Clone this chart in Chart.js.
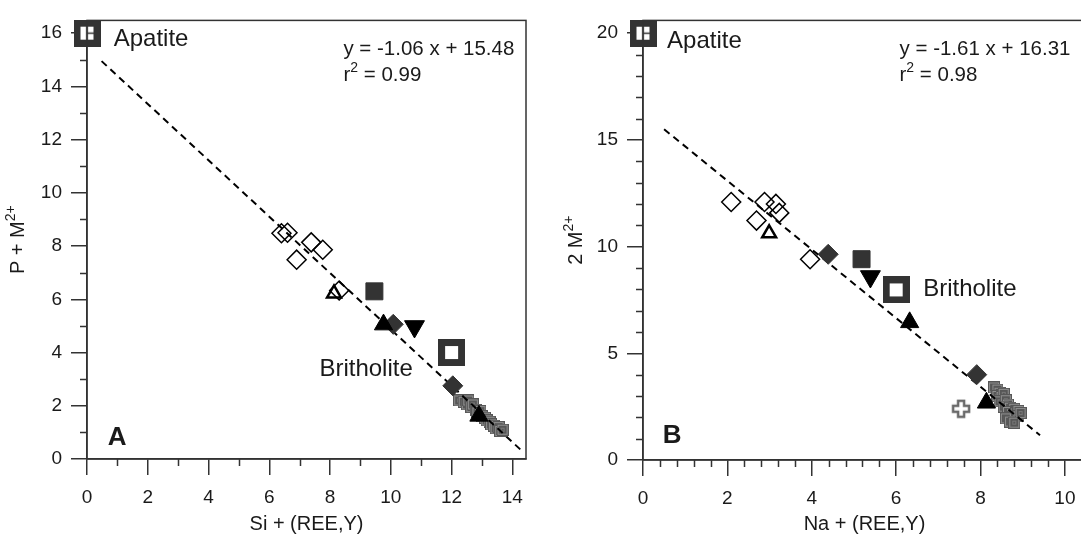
<!DOCTYPE html>
<html>
<head>
<meta charset="utf-8">
<script src="https://cdn.jsdelivr.net/npm/chart.js@4.4.1/dist/chart.umd.min.js"></script>
<style>
    html, body { margin: 0; padding: 0; background: #fff; overflow: hidden; width: 1081px; height: 536px; }
    #chartA { position: absolute; left: 0; top: 0; }
    #chartB { position: absolute; left: 540px; top: 0; }
</style>
</head>
<body>
<canvas id="chartA" width="540" height="536"></canvas>
<canvas id="chartB" width="560" height="536"></canvas>
<script>
// ---- Panel A : P + M2+ vs Si + (REE,Y) ----
const aApatite = [[0, 16]];
const aBritholite = [[12.0, 4.0]];
const aOpenDiamonds = [[6.4, 8.48], [6.6, 8.5], [7.38, 8.14], [7.76, 7.86], [6.9, 7.49], [8.3, 6.33]];
const aOpenTriangles = [[8.13, 6.22]];
const aDarkSquares = [[9.46, 6.3]];
const aBlackTriangles = [[9.76, 5.05], [12.9, 1.62]];
const aDarkDiamonds = [[10.08, 5.06], [12.04, 2.75]];
const aDownTriangles = [[10.78, 4.98]];
const aCluster = [[12.25, 2.2], [12.4, 2.15], [12.5, 2.05], [12.55, 2.2], [12.65, 1.95], [12.7, 2.05],
                  [12.8, 1.85], [12.85, 1.75], [12.95, 1.8], [13.0, 1.6], [13.1, 1.55], [13.15, 1.45],
                  [13.25, 1.4], [13.3, 1.3], [13.4, 1.25], [13.45, 1.15], [13.55, 1.2], [13.6, 1.05],
                  [13.68, 1.1]];
const aFitLine = [[0.48, 14.95], [14.3, 0.32]];
const aXTicks = [0, 2, 4, 6, 8, 10, 12, 14];
const aYTicks = [0, 2, 4, 6, 8, 10, 12, 14, 16];
const aXMinor = [1, 3, 5, 7, 9, 11, 13];
const aYMinor = [1, 3, 5, 7, 9, 11, 13, 15];

// ---- Panel B : 2 M2+ vs Na + (REE,Y) ----
const bApatite = [[0, 20]];
const bBritholite = [[6.0, 7.97]];
const bOpenDiamonds = [[2.09, 12.09], [2.88, 12.09], [3.15, 12.0], [3.23, 11.58], [2.69, 11.22], [3.96, 9.41]];
const bOpenTriangles = [[2.99, 10.62]];
const bDarkSquares = [[5.18, 9.41]];
const bBlackTriangles = [[6.32, 6.45], [8.14, 2.68]];
const bDarkDiamonds = [[4.39, 9.64], [7.91, 4.0]];
const bDownTriangles = [[5.39, 8.6]];
const bOpenCross = [[7.54, 2.4]];
const bCluster = [[8.32, 3.4], [8.4, 3.3], [8.45, 3.15], [8.4, 3.0], [8.5, 2.95], [8.55, 3.1],
                  [8.45, 2.75], [8.6, 2.8], [8.65, 2.6], [8.55, 2.5], [8.7, 2.45], [8.8, 2.4],
                  [8.65, 2.25], [8.75, 2.15], [8.85, 2.2], [8.9, 2.3], [8.7, 2.0], [8.8, 1.9],
                  [8.9, 2.05], [8.95, 2.2], [8.6, 1.95], [8.7, 1.8], [8.8, 1.75]];
const bFitLine = [[0.5, 15.5], [9.41, 1.16]];
const bXTicks = [0, 2, 4, 6, 8, 10];
const bYTicks = [0, 5, 10, 15, 20];
const bXMinor = [0.4, 0.8, 1.2, 1.6, 2.4, 2.8, 3.2, 3.6, 4.4, 4.8, 5.2, 5.6, 6.4, 6.8, 7.2, 7.6, 8.4, 8.8, 9.2, 9.6, 10.4];
const bYMinor = [1, 2, 3, 4, 6, 7, 8, 9, 11, 12, 13, 14, 16, 17, 18, 19];

const FONT = '"Liberation Sans", Arial, sans-serif';
const INK = '#333';
const TEXT = '#1a1a1a';

function pts(arr) {
    return arr.map(p => ({ x: p[0], y: p[1] }));
}

// marker pictures for the symbols Chart.js has no built-in style for
function boxMarker(withCross) {
    const c = document.createElement('canvas');
    c.width = 27; c.height = 27;
    const g = c.getContext('2d');
    g.fillStyle = INK;
    g.fillRect(0, 0, 27, 27);
    g.fillStyle = '#fff';
    g.fillRect(7, 7, 13, 13);
    if (withCross) {
        g.strokeStyle = INK;
        g.lineWidth = 1.5;
        g.beginPath();
        g.moveTo(13.5, 7); g.lineTo(13.5, 20);
        g.moveTo(13.5, 13.5); g.lineTo(20, 13.5);
        g.stroke();
    }
    return c;
}

function clusterMarker() {
    const c = document.createElement('canvas');
    c.width = 12; c.height = 12;
    const g = c.getContext('2d');
    g.fillStyle = '#575757';
    g.fillRect(0, 0, 12, 12);
    g.strokeStyle = '#8f8f8f';
    g.lineWidth = 1;
    g.strokeRect(1.5, 1.5, 9, 9);
    g.strokeStyle = '#777';
    g.strokeRect(4.5, 4.5, 3, 3);
    return c;
}

function crossMarker() {
    const c = document.createElement('canvas');
    c.width = 20; c.height = 20;
    const g = c.getContext('2d');
    const a = 7, b = 13, lo = 2, hi = 18;
    g.beginPath();
    g.moveTo(a, lo); g.lineTo(b, lo); g.lineTo(b, a); g.lineTo(hi, a); g.lineTo(hi, b);
    g.lineTo(b, b); g.lineTo(b, hi); g.lineTo(a, hi); g.lineTo(a, b); g.lineTo(lo, b);
    g.lineTo(lo, a); g.lineTo(a, a); g.closePath();
    g.fillStyle = '#fff';
    g.fill();
    g.strokeStyle = '#6a6a6a';
    g.lineWidth = 2.5;
    g.stroke();
    return c;
}

// text with superscript pieces: parts = [[text, isSup], ...]
function richWidth(ctx, parts, size) {
    let w = 0;
    parts.forEach(p => {
        ctx.font = (p[1] ? Math.round(size * 0.68) : size) + 'px ' + FONT;
        w += ctx.measureText(p[0]).width;
    });
    return w;
}

function drawRich(ctx, parts, x, y, size, weight) {
    let cx = x;
    parts.forEach(p => {
        const s = p[1] ? Math.round(size * 0.68) : size;
        ctx.font = (weight || '') + ' ' + s + 'px ' + FONT;
        ctx.fillText(p[0], cx, p[1] ? y - size * 0.36 : y);
        cx += ctx.measureText(p[0]).width;
    });
}

// box round the plot area, short minor ticks and the rotated y title
const framePlugin = {
    id: 'frame',
    afterDraw(chart, args, opts) {
        const { ctx, chartArea: ca, scales } = chart;
        ctx.save();
        ctx.strokeStyle = INK;
        ctx.lineWidth = 1.5;
        ctx.strokeRect(ca.left, ca.top, ca.right - ca.left, ca.bottom - ca.top);
        ctx.beginPath();
        opts.xMinor.forEach(v => {
            const px = Math.round(scales.x.getPixelForValue(v)) + 0.5;
            ctx.moveTo(px, ca.bottom);
            ctx.lineTo(px, ca.bottom + opts.len);
        });
        opts.yMinor.forEach(v => {
            const py = Math.round(scales.y.getPixelForValue(v)) + 0.5;
            ctx.moveTo(ca.left, py);
            ctx.lineTo(ca.left - opts.len, py);
        });
        ctx.stroke();

        // y axis title
        ctx.fillStyle = TEXT;
        ctx.textBaseline = 'middle';
        ctx.textAlign = 'left';
        ctx.translate(opts.yTitleX, (ca.top + ca.bottom) / 2);
        ctx.rotate(-Math.PI / 2);
        const w = richWidth(ctx, opts.yTitle, opts.titleSize);
        drawRich(ctx, opts.yTitle, -w / 2, 0, opts.titleSize);
        ctx.restore();
    }
};

// free text inside the plot, placed in data units
const notesPlugin = {
    id: 'notes',
    afterDatasetsDraw(chart, args, opts) {
        const { ctx, scales } = chart;
        ctx.save();
        ctx.fillStyle = TEXT;
        ctx.textBaseline = 'middle';
        ctx.textAlign = 'left';
        opts.items.forEach(it => {
            drawRich(ctx, it.parts, scales.x.getPixelForValue(it.x), scales.y.getPixelForValue(it.y), it.size, it.weight);
        });
        ctx.restore();
    }
};

function buildDatasets(d) {
    const list = [
        { data: pts(d.blackTri), pointStyle: 'triangle', pointRadius: 10.5, backgroundColor: '#000', borderColor: '#000', borderWidth: 1 },
        { data: pts(d.downTri), pointStyle: 'triangle', rotation: 180, pointRadius: 11.5, backgroundColor: '#000', borderColor: '#000', borderWidth: 1 },
        { data: pts(d.darkDiamonds), pointStyle: 'rectRot', pointRadius: 10, backgroundColor: INK, borderColor: INK, borderWidth: 1 },
        { data: pts(d.darkSquares), pointStyle: 'rect', pointRadius: 12, backgroundColor: INK, borderColor: INK, borderWidth: 1 },
        { data: pts(d.apatite), pointStyle: boxMarker(true), pointRadius: 13 },
        { data: pts(d.britholite), pointStyle: boxMarker(false), pointRadius: 13 }
    ];
    if (d.openCross) {
        list.push({ data: pts(d.openCross), pointStyle: crossMarker(), pointRadius: 10 });
    }
    list.push(
        { data: pts(d.openTri), pointStyle: 'triangle', pointRadius: 8, backgroundColor: 'rgba(0,0,0,0)', borderColor: '#000', borderWidth: 2.5 },
        { data: pts(d.openDiamonds), pointStyle: 'rectRot', pointRadius: 9.5, backgroundColor: 'rgba(0,0,0,0)', borderColor: '#000', borderWidth: 1.5 },
        { data: pts(d.fit), showLine: true, borderColor: '#000', borderWidth: 2, borderDash: [7, 5], pointRadius: 0, fill: false },
        { data: pts(d.cluster), pointStyle: clusterMarker(), pointRadius: 6 }
    );
    list.forEach(ds => { ds.clip = false; });
    return list;
}

function buildChart(canvasId, d) {
    const tickFont = { family: FONT, size: 19 };
    return new Chart(document.getElementById(canvasId), {
        type: 'scatter',
        data: { datasets: buildDatasets(d) },
        options: {
            responsive: false,
            animation: false,
            layout: { padding: { top: 14, right: d.padRight, bottom: 0, left: 0 } },
            plugins: {
                legend: { display: false },
                tooltip: { enabled: false },
                frame: { xMinor: d.xMinor, yMinor: d.yMinor, len: 7, yTitle: d.yTitle, yTitleX: d.yTitleX, titleSize: 20 },
                notes: { items: d.notes }
            },
            scales: {
                x: {
                    type: 'linear', min: 0, max: d.xMax,
                    afterFit: s => { s.height = d.xAxisH; },
                    afterBuildTicks: s => { s.ticks = d.xTicks.map(v => ({ value: v })); },
                    border: { display: true, color: INK, width: 1.5 },
                    grid: { drawOnChartArea: false, drawTicks: true, tickLength: 16, color: INK, lineWidth: 1.5 },
                    ticks: { font: tickFont, color: TEXT, padding: 11, maxRotation: 0 },
                    title: { display: true, text: d.xTitle, font: { family: FONT, size: 20 }, color: TEXT, padding: { top: 0, bottom: 0 } }
                },
                y: {
                    type: 'linear', min: 0, max: d.yMax,
                    afterFit: s => { s.width = d.yAxisW; },
                    afterBuildTicks: s => { s.ticks = d.yTicks.map(v => ({ value: v })); },
                    border: { display: true, color: INK, width: 1.5 },
                    grid: { drawOnChartArea: false, drawTicks: true, tickLength: 16, color: INK, lineWidth: 1.5 },
                    ticks: { font: tickFont, color: TEXT, padding: 9 }
                }
            }
        },
        plugins: [framePlugin, notesPlugin]
    });
}

buildChart('chartA', {
    apatite: aApatite, britholite: aBritholite, openDiamonds: aOpenDiamonds, openTri: aOpenTriangles,
    darkSquares: aDarkSquares, blackTri: aBlackTriangles, darkDiamonds: aDarkDiamonds, downTri: aDownTriangles,
    cluster: aCluster, fit: aFitLine, xTicks: aXTicks, yTicks: aYTicks, xMinor: aXMinor, yMinor: aYMinor,
    xMax: 14.45, yMax: 16.48, yAxisW: 87, xAxisH: 77, padRight: 10, yTitleX: 18,
    xTitle: 'Si + (REE,Y)', yTitle: [['P + M'], ['2+', 1]],
    notes: [
        { parts: [['Apatite']], x: 0.88, y: 15.78, size: 24 },
        { parts: [['y = -1.06 x + 15.48']], x: 8.44, y: 15.4, size: 20.5 },
        { parts: [['r'], ['2', 1], [' = 0.99']], x: 8.44, y: 14.4, size: 20.5 },
        { parts: [['Britholite']], x: 7.65, y: 3.37, size: 24 },
        { parts: [['A']], x: 0.68, y: 0.81, size: 26, weight: 'bold' }
    ]
});

buildChart('chartB', {
    apatite: bApatite, britholite: bBritholite, openDiamonds: bOpenDiamonds, openTri: bOpenTriangles,
    darkSquares: bDarkSquares, blackTri: bBlackTriangles, darkDiamonds: bDarkDiamonds, downTri: bDownTriangles,
    openCross: bOpenCross, cluster: bCluster, fit: bFitLine, xTicks: bXTicks, yTicks: bYTicks,
    xMinor: bXMinor, yMinor: bYMinor,
    xMax: 10.5, yMax: 20.6, yAxisW: 103, xAxisH: 76, padRight: 13, yTitleX: 36.5,
    xTitle: 'Na + (REE,Y)', yTitle: [['2 M'], ['2+', 1]],
    notes: [
        { parts: [['Apatite']], x: 0.57, y: 19.63, size: 24 },
        { parts: [['y = -1.61 x + 16.31']], x: 6.08, y: 19.26, size: 20.5 },
        { parts: [['r'], ['2', 1], [' = 0.98']], x: 6.08, y: 18.01, size: 20.5 },
        { parts: [['Britholite']], x: 6.64, y: 7.99, size: 24 },
        { parts: [['B']], x: 0.47, y: 1.15, size: 26, weight: 'bold' }
    ]
});
</script>
</body>
</html>
